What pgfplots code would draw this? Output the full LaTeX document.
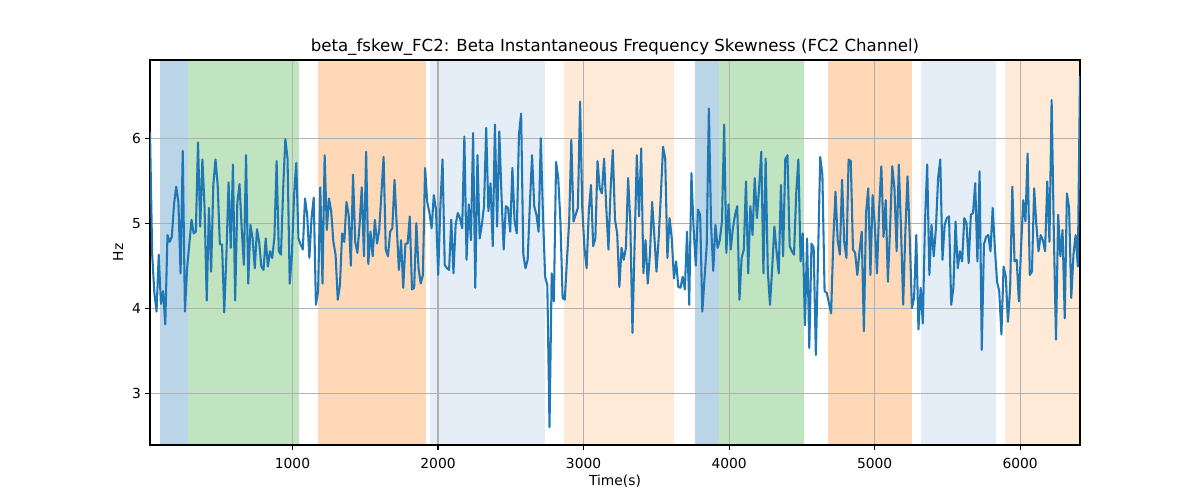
\documentclass[border=0pt]{standalone}
\usepackage{fontspec}
\setmainfont{DejaVu Sans}
\usepackage{pgfplots}
\pgfplotsset{compat=1.18}
\usepackage{pgfplotstable}
\definecolor{tabblue}{RGB}{31,119,180}
\definecolor{spanblue}{RGB}{186,212,232}
\definecolor{spangreen}{RGB}{192,227,192}
\definecolor{spanorange}{RGB}{255,217,183}
\definecolor{spanlblue}{RGB}{229,237,247}
\definecolor{spanlorange}{RGB}{255,234,215}
\definecolor{gridgray}{RGB}{176,176,176}

\pgfplotstableread{
x y
21 6.07
36 4.63
51 4.18
66 3.96
81 4.63
96 4.05
111 4.20
126 3.81
141 4.86
156 4.78
171 4.84
186 5.22
201 5.43
216 5.25
231 4.41
246 5.85
261 3.96
276 4.47
291 4.75
306 5.04
321 4.88
336 4.90
351 5.95
366 4.96
381 5.75
396 5.18
411 4.09
426 5.18
441 4.43
456 5.45
471 5.75
486 5.45
501 4.75
516 4.75
531 3.95
546 4.63
561 5.48
576 4.71
591 5.69
606 4.09
621 5.24
636 5.46
651 4.94
666 4.51
681 5.80
696 4.29
711 4.98
726 4.82
741 4.47
756 4.93
771 4.78
786 4.49
801 4.45
816 4.82
831 4.49
846 4.67
861 4.59
876 4.84
891 5.73
906 4.67
921 4.63
936 5.41
951 5.99
966 5.76
981 4.29
996 4.63
1011 5.33
1026 5.71
1041 4.82
1056 4.75
1071 4.69
1086 5.29
1101 5.10
1116 4.59
1131 5.06
1146 5.30
1161 4.04
1176 4.20
1191 5.42
1206 4.29
1221 5.80
1236 4.92
1251 5.29
1266 5.14
1281 4.78
1296 4.63
1311 4.10
1326 4.27
1341 4.88
1356 4.78
1371 5.25
1386 5.10
1401 4.50
1416 5.57
1431 4.78
1446 4.65
1461 4.98
1476 5.42
1491 4.61
1506 5.84
1521 4.52
1536 4.90
1551 4.61
1566 5.04
1581 4.76
1596 4.92
1611 5.35
1626 5.78
1641 4.69
1656 4.61
1671 4.90
1686 4.94
1701 5.51
1716 4.98
1731 4.45
1746 4.80
1761 4.24
1776 4.76
1791 4.76
1806 5.08
1821 4.22
1836 4.24
1851 5.00
1866 4.47
1881 4.29
1896 4.39
1911 5.65
1926 5.25
1941 5.12
1956 4.94
1971 5.33
1986 5.16
2001 4.39
2016 5.20
2031 5.75
2046 4.51
2061 4.47
2076 4.45
2091 5.04
2106 4.41
2121 4.98
2136 5.12
2151 5.06
2166 4.94
2181 6.02
2196 4.57
2211 5.22
2226 4.80
2241 6.06
2256 4.24
2271 5.80
2286 4.82
2301 4.98
2316 5.20
2331 6.12
2346 5.14
2361 5.47
2376 4.73
2391 6.16
2406 4.96
2421 6.08
2436 5.33
2451 4.69
2466 5.20
2481 5.18
2496 4.90
2511 5.65
2526 5.02
2541 4.88
2556 6.04
2571 6.29
2586 4.63
2601 4.47
2616 4.57
2631 5.22
2646 5.80
2661 5.20
2676 5.10
2691 4.90
2706 6.00
2721 5.10
2736 4.37
2751 4.27
2766 2.60
2781 4.41
2796 4.08
2811 5.72
2826 5.53
2841 5.02
2856 4.12
2871 4.10
2886 4.57
2901 5.02
2916 5.98
2931 5.02
2946 5.10
2961 5.18
2976 6.43
2991 5.18
3006 4.71
3021 4.47
3036 5.14
3051 5.45
3066 4.73
3081 4.82
3096 5.73
3111 5.41
3126 5.35
3141 5.76
3156 5.18
3171 4.69
3186 5.41
3201 5.86
3216 5.04
3231 4.88
3246 4.25
3261 4.71
3276 4.57
3291 4.71
3306 5.53
3321 5.02
3336 3.71
3351 4.78
3366 5.80
3381 5.08
3396 5.88
3411 4.41
3426 4.80
3441 4.29
3456 4.63
3471 5.25
3486 4.86
3501 4.43
3516 4.82
3531 5.33
3546 5.90
3561 5.76
3576 4.59
3591 5.06
3606 4.82
3621 4.35
3636 4.55
3651 4.25
3666 4.24
3681 4.37
3696 4.22
3711 4.90
3726 4.04
3741 5.59
3756 4.94
3771 4.50
3786 5.16
3801 5.10
3816 3.96
3831 4.35
3846 4.73
3861 6.35
3876 4.98
3891 4.44
3906 4.98
3921 4.71
3936 4.80
3951 5.02
3966 6.16
3981 4.65
3996 5.22
4011 4.69
4026 4.94
4041 5.10
4056 5.20
4071 4.10
4086 4.59
4101 4.69
4116 5.49
4131 4.41
4146 5.20
4161 4.86
4176 5.53
4191 5.06
4206 5.41
4221 5.84
4236 4.41
4251 5.76
4266 4.43
4281 4.04
4296 4.47
4311 4.96
4326 4.67
4341 4.41
4356 5.45
4371 4.61
4386 5.75
4401 5.80
4416 4.73
4431 4.67
4446 4.63
4461 5.35
4476 5.75
4491 4.55
4506 4.88
4521 3.80
4536 4.82
4551 3.53
4566 4.76
4581 4.71
4596 3.45
4611 4.59
4626 5.78
4641 5.57
4656 4.20
4671 4.18
4686 4.06
4701 3.94
4716 4.80
4731 5.37
4746 4.80
4761 4.63
4776 5.51
4791 4.78
4806 4.59
4821 5.75
4836 5.73
4851 4.69
4866 4.65
4881 4.39
4896 4.67
4911 4.90
4926 3.73
4941 5.12
4956 5.41
4971 4.39
4986 5.33
5001 4.98
5016 4.41
5031 5.18
5046 5.67
5061 4.84
5076 5.27
5091 4.31
5106 4.94
5121 5.67
5136 5.41
5151 4.67
5166 5.69
5181 4.94
5196 4.04
5211 4.90
5226 5.55
5241 4.84
5256 4.00
5271 4.12
5286 4.86
5301 3.75
5316 4.24
5331 3.82
5346 5.02
5361 5.69
5376 4.39
5391 4.98
5406 4.61
5421 4.94
5436 5.53
5451 5.75
5466 4.57
5481 4.98
5496 5.06
5511 5.08
5526 4.04
5541 4.24
5556 5.02
5571 4.47
5586 4.67
5601 4.55
5616 5.06
5631 5.00
5646 4.53
5661 5.10
5676 5.12
5691 5.47
5706 4.55
5721 5.61
5736 3.51
5751 4.75
5766 4.84
5781 4.86
5796 4.67
5811 5.18
5826 4.71
5841 4.31
5856 4.20
5871 3.69
5886 4.49
5901 4.37
5916 3.84
5931 4.24
5946 5.43
5961 4.55
5976 4.57
5991 4.08
6006 4.71
6021 5.27
6036 5.02
6051 5.82
6066 4.39
6081 4.43
6096 5.41
6111 4.98
6126 4.67
6141 4.86
6156 4.80
6171 4.67
6186 5.49
6201 4.78
6216 6.45
6231 4.90
6246 3.63
6261 5.10
6276 4.61
6291 4.92
6306 3.88
6321 5.35
6336 5.18
6351 4.12
6366 4.63
6381 4.86
6396 4.49
6411 6.73
}\fskew

\begin{document}
\begin{tikzpicture}
\begin{axis}[
  at={(0,0)}, anchor=south west,
  set layers,
  scale only axis,
  width=669.6bp, height=277.2bp,
  xmin=21, xmax=6411,
  ymin=2.39, ymax=6.92,
  xtick={1000,2000,3000,4000,5000,6000},
  ytick={3,4,5,6},
  xtick pos=left, ytick pos=left,
  tick align=outside,
  major tick length=3.5pt,
  tick style={black, line width=0.8pt},
  axis line style={black, line width=0.8pt},
  grid=major,
  major grid style={gridgray, line width=0.8pt},
  /pgf/number format/assume math mode=true,
  /pgf/number format/1000 sep={},
  ticklabel style={font=\fontsize{10}{12}\selectfont, inner sep=0pt},
  xticklabel style={anchor=base, yshift=-13.7bp},
  yticklabel style={anchor=east, xshift=-2.9bp},
  title={beta\_fskew\_FC2: Beta Instantaneous Frequency Skewness (FC2 Channel)},
  title style={at={(rel axis cs:0.5,1)}, anchor=base, yshift=0.3bp, font=\fontsize{12}{14.4}\selectfont, inner sep=0pt},
  xlabel={Time(s)},
  xlabel style={at={(rel axis cs:0.5,0)}, anchor=base, yshift=-29.5bp, font=\fontsize{10}{12}\selectfont, inner sep=0pt},
  ylabel={Hz},
  ylabel style={at={(rel axis cs:0,0.5)}, anchor=center, yshift=23bp, font=\fontsize{10}{12}\selectfont, inner sep=0pt},
]
\addplot[on layer=axis background, fill=spanblue, draw=none] coordinates {(92,2.39) (92,6.92) (285,6.92) (285,2.39)} -- cycle;
\addplot[on layer=axis background, fill=spangreen, draw=none] coordinates {(285,2.39) (285,6.92) (1042,6.92) (1042,2.39)} -- cycle;
\addplot[on layer=axis background, fill=spanorange, draw=none] coordinates {(1172,2.39) (1172,6.92) (1918,6.92) (1918,2.39)} -- cycle;
\addplot[on layer=axis background, fill=spanlblue, draw=none] coordinates {(1947,2.39) (1947,6.92) (2738,6.92) (2738,2.39)} -- cycle;
\addplot[on layer=axis background, fill=spanlorange, draw=none] coordinates {(2864,2.39) (2864,6.92) (3618,6.92) (3618,2.39)} -- cycle;
\addplot[on layer=axis background, fill=spanblue, draw=none] coordinates {(3767,2.39) (3767,6.92) (3932,6.92) (3932,2.39)} -- cycle;
\addplot[on layer=axis background, fill=spangreen, draw=none] coordinates {(3932,2.39) (3932,6.92) (4517,6.92) (4517,2.39)} -- cycle;
\addplot[on layer=axis background, fill=spanorange, draw=none] coordinates {(4680,2.39) (4680,6.92) (5255,6.92) (5255,2.39)} -- cycle;
\addplot[on layer=axis background, fill=spanlblue, draw=none] coordinates {(5319,2.39) (5319,6.92) (5833,6.92) (5833,2.39)} -- cycle;
\addplot[on layer=axis background, fill=spanlorange, draw=none] coordinates {(5897,2.39) (5897,6.92) (6411,6.92) (6411,2.39)} -- cycle;
\addplot[tabblue, line width=1.5pt, line join=round, mark=none] table[x=x, y=y] {\fskew};
\end{axis}
\useasboundingbox (-108bp,-39.6bp) rectangle (756bp,320.4bp);
\end{tikzpicture}
\end{document}
